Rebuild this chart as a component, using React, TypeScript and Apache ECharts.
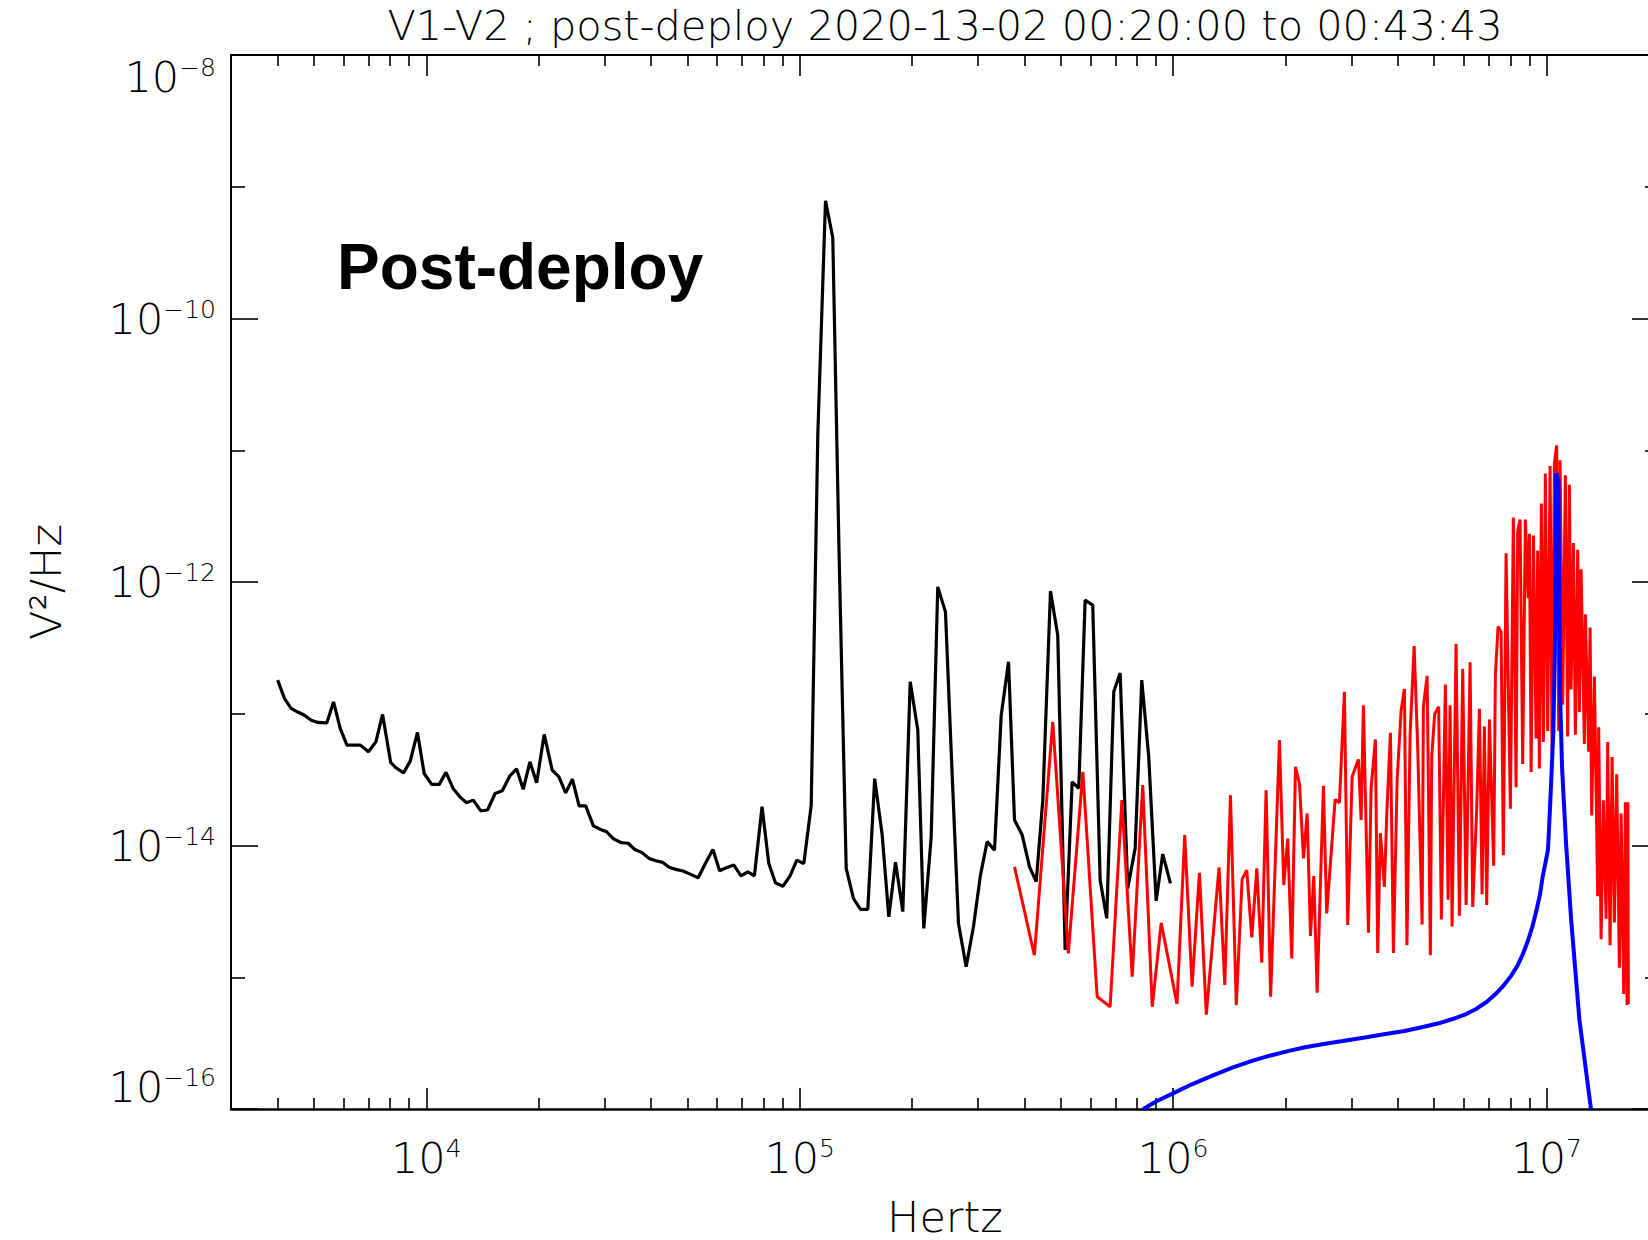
import React, { useEffect, useRef } from "react";
import * as echarts from "echarts";

// ---------- axis ranges / ticks ----------
const X_MIN_HZ = 3000;
const X_MAX_HZ = 2e7;
const Y_MIN = 1e-16;
const Y_MAX = 1e-8;
const xMajorTicksHz = [1e4, 1e5, 1e6, 1e7];
const xMinorTicksHz = [
  4e3, 5e3, 6e3, 7e3, 8e3, 9e3,
  2e4, 3e4, 4e4, 5e4, 6e4, 7e4, 8e4, 9e4,
  2e5, 3e5, 4e5, 5e5, 6e5, 7e5, 8e5, 9e5,
  2e6, 3e6, 4e6, 5e6, 6e6, 7e6, 8e6, 9e6,
];
const yMajorTicks = [1e-8, 1e-10, 1e-12, 1e-14, 1e-16];
const yMinorTicks = [1e-9, 1e-11, 1e-13, 1e-15];
const yLabelsMiddle = [1e-10, 1e-12, 1e-14];
const yLabelTop = [1e-8];
const yLabelBottom = [1e-16];

const TITLE = "V1-V2 ; post-deploy 2020-13-02 00:20:00 to 00:43:43";
const X_NAME = "Hertz";
const Y_NAME = "V²/Hz";
const ANNOTATION = "Post-deploy";

// ---------- data: [frequency Hz, PSD V^2/Hz] ----------
const blackSpectrum: [number, number][] = [
  [4000, 1.8e-13], [4170, 1.31e-13], [4345, 1.1e-13], [4529, 1.03e-13], [4720, 9.75e-14],
  [4920, 8.93e-14], [5128, 8.59e-14], [5418, 8.53e-14], [5645, 1.23e-13], [5883, 7.74e-14],
  [6131, 5.78e-14], [6389, 5.78e-14], [6659, 5.78e-14], [6998, 5.14e-14], [7329, 6.12e-14],
  [7638, 9.88e-14], [8028, 4.28e-14], [8296, 3.89e-14], [8693, 3.56e-14], [9060, 4.37e-14],
  [9472, 7.21e-14], [9872, 3.52e-14], [10340, 2.91e-14], [10835, 2.91e-14], [11290, 3.59e-14],
  [11800, 2.71e-14], [12300, 2.34e-14], [12820, 2.11e-14], [13360, 2.21e-14], [14000, 1.83e-14],
  [14590, 1.86e-14], [15290, 2.48e-14], [15980, 2.6e-14], [16740, 3.37e-14], [17450, 3.82e-14],
  [18180, 2.67e-14], [18950, 4.32e-14], [19750, 2.99e-14], [20690, 6.97e-14], [21740, 3.73e-14],
  [22660, 3.32e-14], [23620, 2.51e-14], [24620, 3.19e-14], [25660, 2.0e-14], [26730, 2.0e-14],
  [28020, 1.41e-14], [29190, 1.33e-14], [30410, 1.27e-14], [31790, 1.12e-14], [33310, 1.05e-14],
  [34720, 1.04e-14], [36180, 9.33e-15], [37710, 8.87e-15], [39520, 7.98e-15], [41190, 7.66e-15],
  [42930, 7.45e-15], [44710, 6.83e-15], [46600, 6.59e-15], [48710, 6.4e-15], [51040, 6.04e-15],
  [53480, 5.69e-15], [55880, 7.31e-15], [58560, 9.33e-15], [61020, 6.43e-15], [63600, 6.78e-15],
  [66640, 7.1e-15], [69620, 5.89e-15], [72570, 6.31e-15], [75630, 5.89e-15], [79270, 1.97e-14],
  [82660, 7.29e-15], [86150, 5.2e-15], [90120, 4.9e-15], [94320, 5.9e-15], [98220, 7.75e-15],
  [102560, 7.29e-15], [107350, 2.01e-14], [111800, 1.3e-11], [117240, 7.83e-10], [122620, 4.12e-10],
  [127420, 1.74e-12], [133200, 6.7e-15], [139320, 3.96e-15], [145480, 3.27e-15], [152170, 3.27e-15],
  [158790, 3.22e-14], [166300, 1.2e-14], [173220, 2.87e-15], [180520, 7.48e-15], [188850, 3.15e-15],
  [197650, 1.75e-13], [207110, 7.52e-14], [214920, 2.35e-15], [224930, 1.16e-14], [234250, 9.18e-13],
  [245660, 5.93e-13], [254410, 5.3e-14], [266160, 2.56e-15], [279080, 1.2e-15], [291900, 2.42e-15],
  [304800, 5.96e-15], [317700, 1.07e-14], [332400, 9.23e-15], [346400, 9.75e-14], [362400, 2.48e-13],
  [376000, 1.56e-14], [394300, 1.2e-14], [412500, 6.89e-15], [429900, 5.31e-15], [447700, 2.21e-14],
  [469400, 8.55e-13], [490900, 3.95e-13], [513800, 1.61e-15], [536500, 3.04e-14], [558800, 2.71e-14],
  [581200, 7.28e-13], [609100, 6.67e-13], [637600, 5.46e-15], [664000, 2.8e-15], [693400, 1.47e-13],
  [721300, 2.04e-13], [755800, 4.73e-15], [791100, 9.51e-15], [824100, 1.8e-13], [860200, 4.71e-14],
  [900500, 3.8e-15], [938000, 8.61e-15], [983600, 5.15e-15],
];

const redSpectrum: [number, number][] = [
  [3.76e5, 6.89e-15], [4.25e5, 1.47e-15], [4.76e5, 8.69e-14], [5.24e5, 1.52e-15], [5.73e5, 3.62e-14],
  [6.26e5, 7.11e-16], [6.78e5, 5.97e-16], [7.29e5, 2.21e-14], [7.77e5, 1.01e-15], [8.29e5, 2.87e-14],
  [8.79e5, 5.97e-16], [9.29e5, 2.59e-15], [1.024e6, 6.27e-16], [1.074e6, 1.2e-14], [1.124e6, 8.47e-16],
  [1.176e6, 6.21e-15], [1.227e6, 5.21e-16], [1.327e6, 6.83e-15], [1.375e6, 8.73e-16], [1.424e6, 2.41e-14],
  [1.476e6, 6.15e-16], [1.53e6, 5.53e-15], [1.574e6, 6.5e-15], [1.624e6, 2.01e-15], [1.675e6, 6.7e-15],
  [1.727e6, 1.29e-15], [1.774e6, 2.63e-14], [1.824e6, 7.11e-16], [1.926e6, 6.31e-14], [1.978e6, 5.01e-15],
  [2.027e6, 1.13e-14], [2.078e6, 1.39e-15], [2.126e6, 3.95e-14], [2.179e6, 2.96e-14], [2.234e6, 7.98e-15],
  [2.285e6, 1.75e-14], [2.332e6, 2.06e-15], [2.38e6, 5.86e-15], [2.43e6, 7.62e-16], [2.526e6, 2.84e-14],
  [2.578e6, 3.05e-15], [2.715e6, 2.24e-14], [2.788e6, 2.11e-14], [2.875e6, 1.47e-13], [2.934e6, 2.49e-15],
  [3.015e6, 3.32e-14], [3.134e6, 4.5e-14], [3.187e6, 1.56e-14], [3.232e6, 1.16e-13], [3.334e6, 2.18e-15],
  [3.389e6, 2.71e-14], [3.48e6, 6.38e-14], [3.53e6, 1.53e-15], [3.589e6, 1.24e-14], [3.679e6, 4.86e-15],
  [3.732e6, 1.7e-14], [3.818e6, 7.16e-14], [3.889e6, 1.53e-15], [3.979e6, 3.13e-14], [4.078e6, 1.06e-13],
  [4.162e6, 1.54e-13], [4.227e6, 1.75e-15], [4.311e6, 7.05e-14], [4.419e6, 3.26e-13], [4.518e6, 5.48e-14],
  [4.642e6, 2.51e-15], [4.679e6, 1.13e-13], [4.787e6, 1.94e-13], [4.885e6, 1.47e-15], [4.925e6, 4.7e-14],
  [5.016e6, 9.93e-14], [5.141e6, 1.13e-13], [5.227e6, 2.75e-15], [5.358e6, 1.67e-13], [5.448e6, 3.88e-15],
  [5.515e6, 1.16e-13], [5.584e6, 2.43e-15], [5.723e6, 3.4e-13], [5.842e6, 2.93e-15], [5.962e6, 2.19e-13],
  [6.088e6, 3.53e-15], [6.24e6, 2.46e-13], [6.341e6, 3.42e-15], [6.5e6, 1.9e-14], [6.609e6, 1.09e-13],
  [6.719e6, 4.26e-15], [6.815e6, 8.0e-14], [6.913e6, 3.53e-15], [7.029e6, 9.06e-14], [7.217e6, 7.02e-15],
  [7.293e6, 1.98e-13], [7.415e6, 4.59e-13], [7.554e6, 4.18e-13], [7.661e6, 8.45e-15], [7.79e6, 1.65e-12],
  [7.999e6, 1.9e-14], [8.148e6, 3.08e-12], [8.284e6, 2.77e-14], [8.367e6, 2.39e-12], [8.492e6, 2.98e-12],
  [8.63e6, 4.15e-14], [8.774e6, 2.98e-12], [8.924e6, 7.55e-13], [8.996e6, 2.32e-12], [9.09e6, 3.61e-14],
  [9.221e6, 2.25e-12], [9.374e6, 6.5e-14], [9.467e6, 1.73e-12], [9.566e6, 3.85e-14], [9.685e6, 3.94e-12],
  [9.804e6, 6.1e-14], [9.926e6, 6.67e-12], [1.0067e7, 7.4e-14], [1.0218e7, 7.6e-12], [1.0344e7, 5.0e-14],
  [1.0493e7, 7.85e-12], [1.0641e7, 1.09e-11], [1.0775e7, 7.4e-14], [1.0867e7, 8.39e-12], [1.1044e7, 1.17e-13],
  [1.1228e7, 6.46e-12], [1.1389e7, 6.71e-14], [1.151e7, 5.47e-12], [1.1631e7, 1.53e-13], [1.1798e7, 1.98e-12],
  [1.1943e7, 6.93e-14], [1.2115e7, 1.76e-12], [1.2241e7, 1.03e-13], [1.237e7, 1.25e-12], [1.2624e7, 5.89e-14],
  [1.2702e7, 5.68e-13], [1.2962e7, 5.16e-14], [1.3076e7, 4.51e-13], [1.3207e7, 1.69e-14], [1.3428e7, 1.92e-13],
  [1.3704e7, 4.12e-15], [1.3789e7, 7.91e-14], [1.3994e7, 1.94e-15], [1.4195e7, 2.2e-14], [1.4433e7, 2.78e-15],
  [1.4577e7, 6.1e-14], [1.4791e7, 1.75e-15], [1.4977e7, 4.69e-14], [1.5189e7, 2.6e-15], [1.5407e7, 3.48e-14],
  [1.5665e7, 1.18e-15], [1.5832e7, 1.75e-14], [1.6086e7, 7.46e-16], [1.6255e7, 2.13e-14], [1.6425e7, 6.15e-16],
  [1.6508e7, 2.13e-14], [1.6558e7, 6.27e-16],
];

const blueModel: [number, number][] = [
  [8.31e5, 1.0e-16], [9.08e5, 1.156e-16], [9.99e5, 1.315e-16], [1.122e6, 1.54e-16], [1.274e6, 1.79e-16],
  [1.446e6, 2.07e-16], [1.642e6, 2.34e-16], [1.825e6, 2.55e-16], [2.028e6, 2.75e-16], [2.255e6, 2.94e-16],
  [2.507e6, 3.1e-16], [2.847e6, 3.28e-16], [3.232e6, 3.475e-16], [3.667e6, 3.69e-16], [4.165e6, 3.91e-16],
  [4.63e6, 4.17e-16], [5.145e6, 4.47e-16], [5.6e6, 4.82e-16], [6.095e6, 5.26e-16], [6.494e6, 5.77e-16],
  [6.92e6, 6.52e-16], [7.298e6, 7.46e-16], [7.69e6, 8.73e-16], [8.025e6, 1.02e-15], [8.375e6, 1.24e-15],
  [8.641e6, 1.5e-15], [8.925e6, 1.91e-15], [9.17e6, 2.44e-15], [9.4e6, 3.24e-15], [9.607e6, 4.28e-15],
  [9.76e6, 5.79e-15], [1.0085e7, 9.23e-15], [1.0219e7, 1.99e-14], [1.0428e7, 7.38e-14], [1.0558e7, 5.31e-13],
  [1.0603e7, 6.68e-12], [1.0755e7, 5.92e-12], [1.0867e7, 1.43e-13], [1.1003e7, 3.86e-14], [1.1278e7, 1.03e-14],
  [1.1631e7, 2.78e-15], [1.2241e7, 4.78e-16], [1.3147e7, 1.0e-16],
];

const lg = (v: number) => Math.log10(v);
const FONT = "DejaVu Sans";
const THIN = 200;

const supLabel = (v: number) => {
  const n = Math.round(v);
  const exp = n < 0 ? "\u2212" + String(-n) : String(n);
  return `{b|10}{s|${exp}}`;
};
const labelRich = {
  b: { fontSize: 43, lineHeight: 44, fontFamily: FONT, fontWeight: THIN, color: "#000" },
  s: { fontSize: 25, lineHeight: 12, verticalAlign: "top", fontFamily: FONT, fontWeight: THIN, color: "#000" },
};

const tickStyle = { color: "#000", width: 1.6 };

export default function App() {
  const ref = useRef<HTMLDivElement>(null);
  useEffect(() => {
    if (!ref.current) return;
    const chart = echarts.init(ref.current, null, { renderer: "svg" });
    const xMin = lg(X_MIN_HZ);
    const xMax = lg(X_MAX_HZ);
    const yMin = lg(Y_MIN);
    const yMax = lg(Y_MAX);

    const xBase = { type: "value", min: xMin, max: xMax, splitLine: { show: false } };
    const yBase = { type: "value", min: yMin, max: yMax, splitLine: { show: false } };

    const option = {
      animation: false,
      backgroundColor: "#fff",
      title: {
        text: TITLE,
        left: 945,
        top: 4,
        textAlign: "center",
        padding: 0,
        textStyle: { fontFamily: FONT, fontSize: 41.5, fontWeight: THIN, color: "#000", lineHeight: 42 },
      },
      grid: {
        left: 231,
        top: 55,
        width: 1428,
        height: 1054,
        containLabel: false,
        outerBoundsMode: "none",
      },
      xAxis: [
        {
          ...xBase,
          position: "bottom",
          axisLine: { show: true, lineStyle: { color: "#000", width: 2.5 } },
          axisTick: { show: true, inside: true, length: 21, customValues: xMajorTicksHz.map(lg), lineStyle: tickStyle },
          axisLabel: { show: true, customValues: xMajorTicksHz.map(lg), formatter: supLabel, rich: labelRich, margin: 27 },
          name: X_NAME,
          nameLocation: "middle",
          nameGap: 86,
          nameTextStyle: { fontFamily: FONT, fontSize: 43, fontWeight: THIN, color: "#000" },
        },
        {
          ...xBase,
          position: "bottom",
          axisLine: { show: false },
          axisTick: { show: true, inside: true, length: 11, customValues: xMinorTicksHz.map(lg), lineStyle: tickStyle },
          axisLabel: { show: false },
        },
        {
          ...xBase,
          position: "top",
          axisLine: { show: true, lineStyle: { color: "#000", width: 2 } },
          axisTick: { show: true, inside: true, length: 21, customValues: xMajorTicksHz.map(lg), lineStyle: tickStyle },
          axisLabel: { show: false },
        },
        {
          ...xBase,
          position: "top",
          axisLine: { show: false },
          axisTick: { show: true, inside: true, length: 11, customValues: xMinorTicksHz.map(lg), lineStyle: tickStyle },
          axisLabel: { show: false },
        },
      ],
      yAxis: [
        {
          ...yBase,
          position: "left",
          axisLine: { show: true, lineStyle: { color: "#000", width: 2 } },
          axisTick: { show: true, inside: true, length: 27, customValues: yMajorTicks.map(lg), lineStyle: tickStyle },
          axisLabel: { show: true, customValues: yLabelsMiddle.map(lg), formatter: supLabel, rich: labelRich, margin: 15 },
          name: Y_NAME,
          nameLocation: "middle",
          nameGap: 164,
          nameTextStyle: { fontFamily: FONT, fontSize: 43, fontWeight: THIN, color: "#000" },
        },
        {
          ...yBase,
          position: "left",
          axisLine: { show: false },
          axisTick: { show: true, inside: true, length: 14, customValues: yMinorTicks.map(lg), lineStyle: tickStyle },
          axisLabel: { show: false },
        },
        {
          ...yBase,
          position: "left",
          axisLine: { show: false },
          axisTick: { show: false },
          axisLabel: { show: true, customValues: yLabelTop.map(lg), formatter: supLabel, rich: labelRich, margin: 15, verticalAlign: "top" },
        },
        {
          ...yBase,
          position: "left",
          axisLine: { show: false },
          axisTick: { show: false },
          axisLabel: { show: true, customValues: yLabelBottom.map(lg), formatter: supLabel, rich: labelRich, margin: 15, verticalAlign: "bottom" },
        },
        {
          ...yBase,
          position: "right",
          axisLine: { show: true, lineStyle: { color: "#000", width: 2 } },
          axisTick: { show: true, inside: true, length: 27, customValues: yMajorTicks.map(lg), lineStyle: tickStyle },
          axisLabel: { show: false },
        },
        {
          ...yBase,
          position: "right",
          axisLine: { show: false },
          axisTick: { show: true, inside: true, length: 14, customValues: yMinorTicks.map(lg), lineStyle: tickStyle },
          axisLabel: { show: false },
        },
      ],
      graphic: [
        {
          type: "text",
          x: 337,
          y: 267,
          style: {
            text: ANNOTATION,
            fontSize: 64,
            fontWeight: "bold",
            fontFamily: "Liberation Sans",
            fill: "#000",
            align: "left",
            verticalAlign: "middle",
          },
        },
      ],
      series: [
        {
          type: "line",
          name: "low band",
          xAxisIndex: 0,
          yAxisIndex: 0,
          data: blackSpectrum.map(([f, p]) => [lg(f), lg(p)]),
          symbol: "none",
          lineStyle: { color: "#000", width: 3.2 },
          silent: true,
          z: 2,
        },
        {
          type: "line",
          name: "high band",
          xAxisIndex: 0,
          yAxisIndex: 0,
          data: redSpectrum.map(([f, p]) => [lg(f), lg(p)]),
          symbol: "none",
          lineStyle: { color: "#ff0000", width: 3 },
          silent: true,
          z: 3,
        },
        {
          type: "line",
          name: "model",
          xAxisIndex: 0,
          yAxisIndex: 0,
          data: blueModel.map(([f, p]) => [lg(f), lg(p)]),
          symbol: "none",
          lineStyle: { color: "#0000ff", width: 4 },
          silent: true,
          z: 4,
        },
      ],
    };
    chart.setOption(option as any);
    return () => chart.dispose();
  }, []);
  return (
    <div
      ref={ref}
      style={{ position: "absolute", left: 0, top: 0, width: 1648, height: 1240, background: "#fff" }}
    />
  );
}
